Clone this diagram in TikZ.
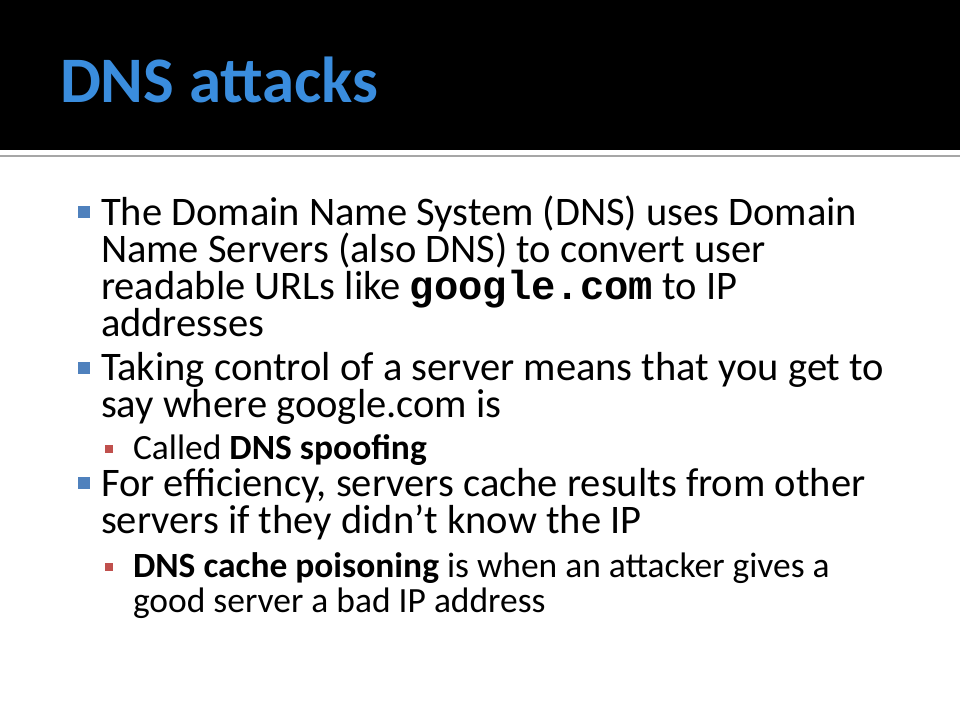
\documentclass[tikz,border=0pt]{standalone}
\usepackage{fontspec}
\setmainfont{Carlito}
\setmonofont{Liberation Mono}
\usepackage{tikz}
\usetikzlibrary{positioning}

\definecolor{titleblue}{RGB}{58,141,222}
\definecolor{bulletblue}{RGB}{79,129,189}
\definecolor{bulletred}{RGB}{192,80,77}

\begin{document}
\begin{tikzpicture}[
        x=0.75pt, y=-0.75pt,
        every node/.style = {
            inner sep=0pt,
            outer sep=0pt
        },
        title/.style = {
            anchor=base west,
            text=titleblue,
            font=\fontsize{48.7}{50}\selectfont\bfseries
        },
        mainitem/.style = {
            anchor=base west,
            align=left,
            font=\fontsize{30.4}{27.75}\selectfont
        },
        subitem/.style = {
            anchor=base west,
            align=left,
            font=\fontsize{26.6}{26.25}\selectfont
        },
        mainbullet/.style = {
            fill=bulletblue,
            minimum size=9pt
        },
        subbullet/.style = {
            fill=bulletred,
            minimum size=6pt
        }]
        \useasboundingbox (0,0) rectangle (960,720);
        % title band
        \fill[black] (0,0) rectangle (960,150);
        \fill[gray!70] (0,155) rectangle (960,157);
        \node[title] (head) at (60,103) {DNS attacks};
        % bullets (placed at the baseline of their last line)
        \node[mainitem] (b1) at (101,336) {The Domain Name System (DNS) uses Domain\\
            Name Servers (also DNS) to convert user\\
            readable URLs like \textbf{\texttt{google.com}} to IP\\
            addresses};
        \node[mainitem] (b2) at (101,417) {Taking control of a server means that you get to\\
            say where google.com is};
        \node[subitem] (s1) at (133,459) {Called \textbf{DNS spoofing}};
        \node[mainitem] (b3) at (101,533) {For efficiency, servers cache results from other\\
            servers if they didn’t know the IP};
        \node[subitem] (s2) at (133,612) {\textbf{DNS cache poisoning} is when an attacker gives a\\
            good server a bad IP address};
        % bullet marks
        \node[mainbullet] (m1) at (83.5,212.5) {};
        \node[mainbullet] (m2) at (83.5,367.5) {};
        \node[mainbullet] (m3) at (83.5,482.5) {};
        \node[subbullet] (n1) at (109,449) {};
        \node[subbullet] (n2) at (109,567) {};
\end{tikzpicture}
\end{document}
